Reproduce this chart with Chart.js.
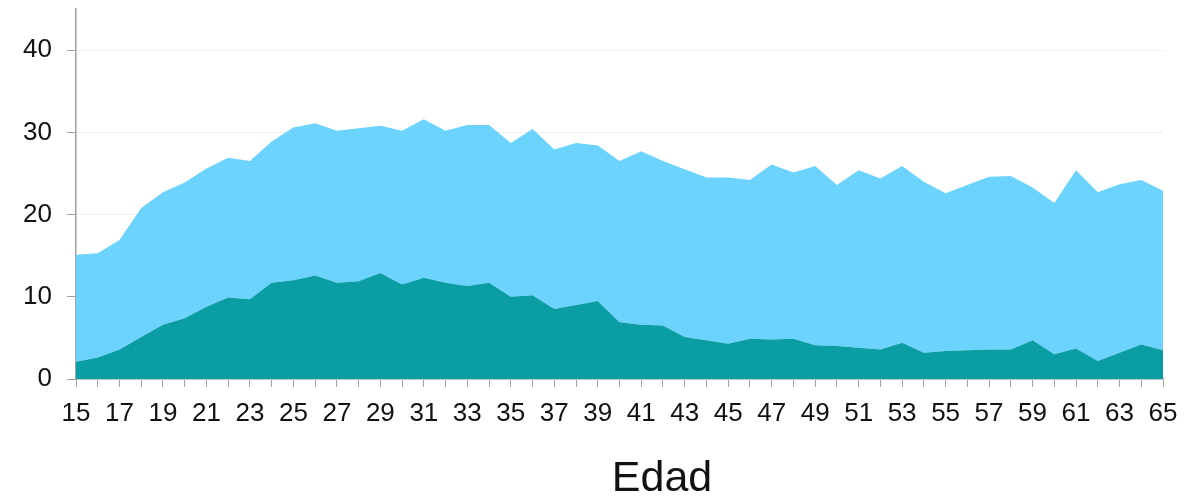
<!DOCTYPE html>
<html>
<head>
<meta charset="utf-8">
<script src="https://cdn.jsdelivr.net/npm/chart.js@4"></script>
<style>
  body { margin: 0; background: #fff; overflow: hidden; }
  #wrap { position: relative; width: 1196px; height: 496px; }
  #xTitle {
    position: absolute; left: 662px; top: 455px; transform: translateX(-50%);
    font-family: "Liberation Sans", Arial, sans-serif; font-size: 43px; line-height: 43px;
    color: #111; white-space: nowrap;
  }
</style>
</head>
<body>
<div id="wrap">
  <canvas id="myChart" width="1196" height="496"></canvas>
  <div id="xTitle">Edad</div>
</div>
<script>
// Age categories 15..65
const ages = [15,16,17,18,19,20,21,22,23,24,25,26,27,28,29,30,31,32,33,34,35,36,37,38,39,40,
              41,42,43,44,45,46,47,48,49,50,51,52,53,54,55,56,57,58,59,60,61,62,63,64,65]

// bottom (dark teal) series
const darkValues = [2.1,2.6,3.6,5.1,6.6,7.4,8.8,9.9,9.7,11.7,12.0,12.6,11.7,11.9,12.9,11.5,12.3,11.7,11.3,11.7,
                    10.0,10.2,8.5,9.0,9.5,6.9,6.6,6.5,5.1,4.7,4.3,4.9,4.8,4.9,4.1,4.0,3.8,3.6,4.4,3.2,
                    3.4,3.5,3.6,3.6,4.7,3.0,3.7,2.2,3.2,4.2,3.5]

// top (light blue) series, stacked on top of the dark one
const lightValues = [13.0,12.7,13.3,15.7,16.1,16.5,16.8,17.0,16.8,17.2,18.6,18.5,18.5,18.6,17.9,18.7,19.3,18.5,19.6,19.2,
                     18.7,20.2,19.4,19.7,18.9,19.6,21.1,20.0,20.4,19.8,20.2,19.3,21.3,20.2,21.8,19.6,21.6,20.8,21.5,20.8,
                     19.2,20.1,21.0,21.1,18.6,18.4,21.7,20.5,20.5,20.0,19.4]

const yTicks = [0, 10, 20, 30, 40]

const tickFont = { family: '"Liberation Sans", Arial, sans-serif', size: 26 }

const ctx = document.getElementById('myChart')
const chart = new Chart(ctx, {
    type: 'line',
    data: {
        labels: ages,
        datasets: [
            {
                data: darkValues,
                backgroundColor: '#0a9da4',
                borderWidth: 0,
                pointRadius: 0,
                fill: 'origin',
                tension: 0
            },
            {
                data: lightValues,
                backgroundColor: '#6bd3fe',
                borderWidth: 0,
                pointRadius: 0,
                fill: '-1',
                tension: 0
            }
        ]
    },
    options: {
        responsive: false,
        animation: false,
        layout: { padding: { top: 9, right: 33, left: 0, bottom: 0 } },
        plugins: {
            legend: { display: false },
            tooltip: { enabled: false }
        },
        scales: {
            x: {
                stacked: true,
                grid: { drawOnChartArea: false, tickLength: 8, tickColor: '#a0a0a0' },
                border: { color: '#a0a0a0', width: 1.5 },
                ticks: {
                    autoSkip: false,
                    maxRotation: 0,
                    padding: 11,
                    color: '#111',
                    font: tickFont,
                    callback: function (value, index) {
                        return index % 2 === 0 ? ages[index] : ''
                    }
                },
                afterFit: function (scale) {
                    scale.height = 117
                    scale.paddingLeft = 0
                    scale.paddingRight = 0
                }
            },
            y: {
                stacked: true,
                min: 0,
                max: 45,
                grid: { color: '#efefef', tickLength: 9, tickColor: '#a0a0a0' },
                border: { color: '#a0a0a0', width: 1.5 },
                ticks: {
                    stepSize: 10,
                    padding: 15,
                    color: '#111',
                    font: tickFont
                },
                afterBuildTicks: function (scale) {
                    scale.ticks = yTicks.map(v => ({ value: v }))
                },
                afterFit: function (scale) {
                    scale.width = 76
                    scale.paddingTop = 0
                    scale.paddingBottom = 0
                }
            }
        }
    }
})
</script>
</body>
</html>
